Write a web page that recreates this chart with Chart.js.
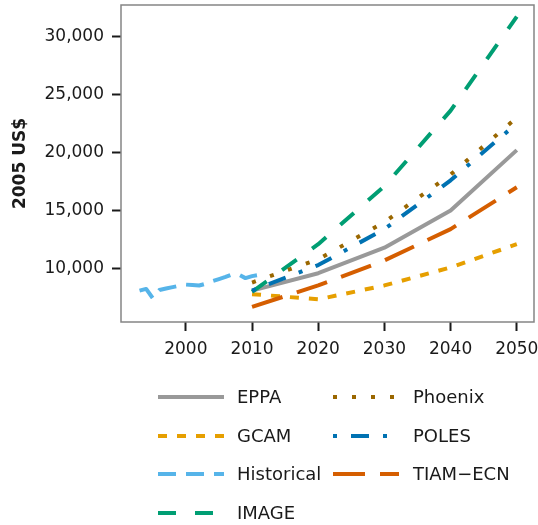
<!DOCTYPE html>
<html>
<head>
<meta charset="utf-8">
<script src="https://cdn.jsdelivr.net/npm/chart.js@4.4.1/dist/chart.umd.min.js"></script>
<style>
    body { margin: 0; background: #ffffff; }
</style>
</head>
<body>
<canvas id="idChartGdp" width="538" height="525"></canvas>
<script>
// GDP per capita projections by model, plus the historical record
var aModelYears = [2010, 2020, 2030, 2040, 2050];
var aEPPA = [8100, 9600, 11800, 15000, 20200];
var aGCAM = [7800, 7350, 8550, 10100, 12100];
var aIMAGE = [8000, 12100, 17100, 23600, 31700];
var aPhoenix = [8800, 10800, 14000, 18100, 23000];
var aPOLES = [8100, 10300, 13400, 17600, 22500];
var aTIAM = [6700, 8550, 10700, 13400, 17000];

var aHistYears = [1993, 1994, 1995, 1996, 1997, 1998, 1999, 2000, 2001, 2002,
    2003, 2004, 2005, 2006, 2007, 2008, 2009, 2010, 2011];
var aHistorical = [8100, 8250, 7450, 8150, 8280, 8400, 8530, 8620, 8580, 8540,
    8700, 8920, 9100, 9280, 9500, 9480, 9180, 9350, 9450];

var aXTicks = [2000, 2010, 2020, 2030, 2040, 2050];
var aYTicks = [10000, 15000, 20000, 25000, 30000];

var sFont = '"DejaVu Sans", "Liberation Sans", Arial, sans-serif';
var sText = '#1a1a1a';

function toPoints(aX, aY) {
    var aData = [];
    for (var i = 0; i < aX.length; i++) {
        aData.push({ x: aX[i], y: aY[i] });
    }
    return aData;
}

function makeSeries(sLabel, aX, aY, sColor, aDash, iOrder) {
    return {
        label: sLabel,
        data: toPoints(aX, aY),
        borderColor: sColor,
        backgroundColor: sColor,
        borderWidth: 4,
        borderDash: aDash,
        borderCapStyle: 'butt',
        borderJoinStyle: 'round',
        pointRadius: 0,
        tension: 0,
        order: iOrder
    };
}

// the scales would otherwise reserve room for half of the end labels
function noEdgePadding(scale) {
    scale.paddingLeft = 0;
    scale.paddingRight = 0;
    scale.paddingTop = 0;
    scale.paddingBottom = 0;
}

// box around the plot area
const boxPlugin = {
    id: 'plotBox',
    beforeDatasetsDraw(chart) {
        const a = chart.chartArea;
        const ctx = chart.ctx;
        ctx.save();
        ctx.strokeStyle = '#858585';
        ctx.lineWidth = 1.5;
        ctx.strokeRect(a.left, a.top, a.right - a.left, a.bottom - a.top);
        ctx.restore();
    }
};

// two-column legend, filled top to bottom
const legendPlugin = {
    id: 'columnLegend',
    afterDraw(chart) {
        const ctx = chart.ctx;
        const aRowY = [397, 436, 474, 513];
        const aLineX = [158, 333];
        const aTextX = [237, 413];
        const iLineLen = 66;
        const aSets = chart.data.datasets;
        ctx.save();
        ctx.font = '18px ' + sFont;
        ctx.textBaseline = 'middle';
        ctx.fillStyle = sText;
        for (var i = 0; i < aSets.length; i++) {
            var iCol = i < 4 ? 0 : 1;
            var iRow = i < 4 ? i : i - 4;
            var y = aRowY[iRow];
            ctx.strokeStyle = aSets[i].borderColor;
            ctx.lineWidth = aSets[i].borderWidth;
            ctx.lineCap = 'butt';
            ctx.setLineDash(aSets[i].borderDash);
            ctx.beginPath();
            ctx.moveTo(aLineX[iCol], y);
            ctx.lineTo(aLineX[iCol] + iLineLen, y);
            ctx.stroke();
            ctx.setLineDash([]);
            ctx.fillText(aSets[i].label, aTextX[iCol], y + 1);
        }
        ctx.restore();
    }
};

const data = {
    datasets: [
        makeSeries('EPPA', aModelYears, aEPPA, '#999999', [], 7),
        makeSeries('GCAM', aModelYears, aGCAM, '#E69F00', [9, 10], 6),
        makeSeries('Historical', aHistYears, aHistorical, '#56B4E9', [18, 10], 5),
        makeSeries('IMAGE', aModelYears, aIMAGE, '#009E73', [18, 19], 4),
        makeSeries('Phoenix', aModelYears, aPhoenix, '#9A6700', [4, 15], 3),
        makeSeries('POLES', aModelYears, aPOLES, '#0072B2', [4, 14, 18, 14], 2),
        makeSeries('TIAM\u2212ECN', aModelYears, aTIAM, '#D55E00', [32, 15], 1)
    ]
};

const config = {
    type: 'line',
    data: data,
    options: {
        responsive: false,
        animation: false,
        devicePixelRatio: 1,
        layout: {
            padding: { top: 5, right: 4, left: 0, bottom: 0 }
        },
        plugins: {
            legend: { display: false },
            tooltip: { enabled: false }
        },
        scales: {
            x: {
                type: 'linear',
                min: 1990.2,
                max: 2052.6,
                afterBuildTicks: function (scale) {
                    scale.ticks = aXTicks.map(function (v) { return { value: v }; });
                },
                afterFit: function (scale) {
                    scale.height = 203;
                    noEdgePadding(scale);
                },
                border: { display: false },
                grid: {
                    drawOnChartArea: false,
                    tickLength: 9,
                    tickWidth: 2,
                    tickColor: sText
                },
                ticks: {
                    padding: 8,
                    color: sText,
                    font: { family: sFont, size: 17 },
                    maxRotation: 0,
                    callback: function (value) { return String(value); }
                }
            },
            y: {
                type: 'linear',
                min: 5400,
                max: 32700,
                afterBuildTicks: function (scale) {
                    scale.ticks = aYTicks.map(function (v) { return { value: v }; });
                },
                afterFit: function (scale) {
                    scale.width = 121;
                    noEdgePadding(scale);
                },
                border: { display: false },
                grid: {
                    drawOnChartArea: false,
                    tickLength: 9,
                    tickWidth: 2,
                    tickColor: sText
                },
                ticks: {
                    padding: 8,
                    color: sText,
                    font: { family: sFont, size: 17 },
                    callback: function (value) { return value.toLocaleString('en-US'); }
                },
                title: {
                    display: true,
                    text: '2005 US$',
                    color: sText,
                    padding: { top: 10, bottom: 0 },
                    font: { family: sFont, size: 17, weight: 'bold' }
                }
            }
        }
    },
    plugins: [boxPlugin, legendPlugin]
};

const oChartGdp = new Chart(
    document.getElementById('idChartGdp'),
    config
);
</script>
</body>
</html>
